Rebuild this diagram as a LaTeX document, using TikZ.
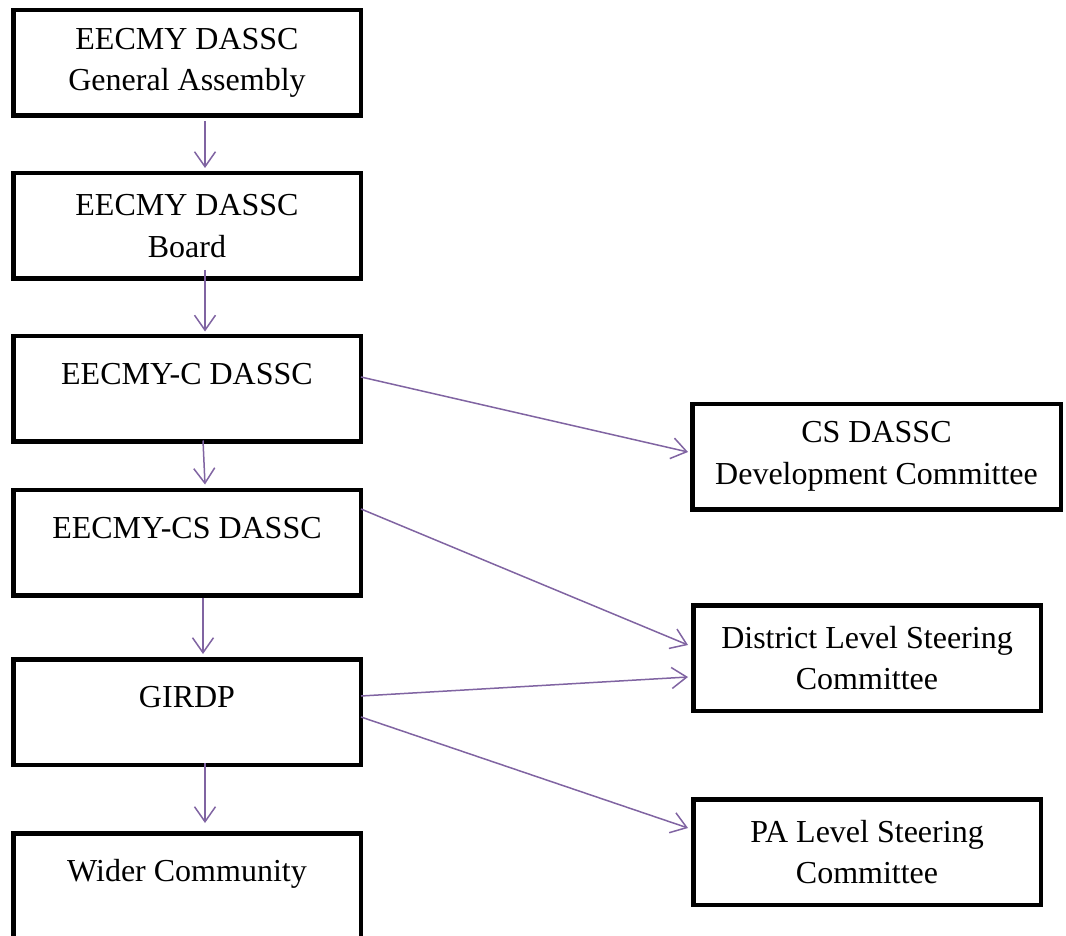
\documentclass[tikz,border=0pt]{standalone}
\usepackage{fontspec}
\setmainfont{Liberation Serif}
\usetikzlibrary{arrows.meta,calc}
\definecolor{arrowpurple}{RGB}{128,100,162}
\begin{document}
\begin{tikzpicture}[x=1pt,y=-1pt,
  box/.style={draw=black, line width=4.5pt, rectangle, align=center,
    font=\fontsize{32}{41.6}\selectfont, minimum height=105.5pt, inner sep=0pt},
  leftbox/.style={box, minimum width=347.5pt},
  rightbox/.style={box, minimum width=347.5pt},
  onel/.style={text height=22pt, text depth=31pt},
  conn/.style={draw=arrowpurple, line width=1.5pt,
    -{Straight Barb[length=15pt,width=21pt,line width=1.5pt]}}]
\clip (0,0) rectangle (1066,936);
% left column
\node[leftbox] (b1) at (187,63) {EECMY DASSC\\General Assembly};
\node[leftbox] (b2) at (187,226) {EECMY DASSC\\Board};
\node[leftbox,onel] (b3) at (187,388.5) {EECMY-C DASSC};
\node[leftbox,onel] (b4) at (187,542.5) {EECMY-CS DASSC};
\node[leftbox,onel] (b5) at (187,712) {GIRDP};
\node[leftbox,onel] (b6) at (187,886) {Wider Community};
% right column
\node[box, minimum width=368.5pt] (r1) at (876.5,456.5) {CS DASSC\\Development Committee};
\node[rightbox] (r2) at (867,658) {District Level Steering\\Committee};
\node[rightbox] (r3) at (867,852) {PA Level Steering\\Committee};
% vertical connectors
\draw[conn] ($(b1.south)+(18,3)$) -- ($(b2.north)+(18,-3)$);
\draw[conn] ($(b2.south)+(18,-11)$) -- ($(b3.north)+(18,-2)$);
\draw[conn] ($(b3.south)+(16,-3)$) -- ($(b4.north)+(18,-3)$);
\draw[conn] ($(b4.south)+(16,0)$) -- ($(b5.north)+(16,-3)$);
\draw[conn] ($(b5.south)+(18,-4)$) -- ($(b6.north)+(18,-8)$);
% diagonal connectors
\draw[conn] ($(b3.east)+(-2,-11.5)$) -- ($(r1.west)+(-2,-4.5)$);
\draw[conn] ($(b4.east)+(-2,-33.5)$) -- ($(r2.west)+(-3,-13)$);
\draw[conn] ($(b5.east)+(-2,-16)$) -- ($(r2.west)+(-3,19)$);
\draw[conn] ($(b5.east)+(-2,5)$) -- ($(r3.west)+(-3,-24)$);
\end{tikzpicture}
\end{document}
